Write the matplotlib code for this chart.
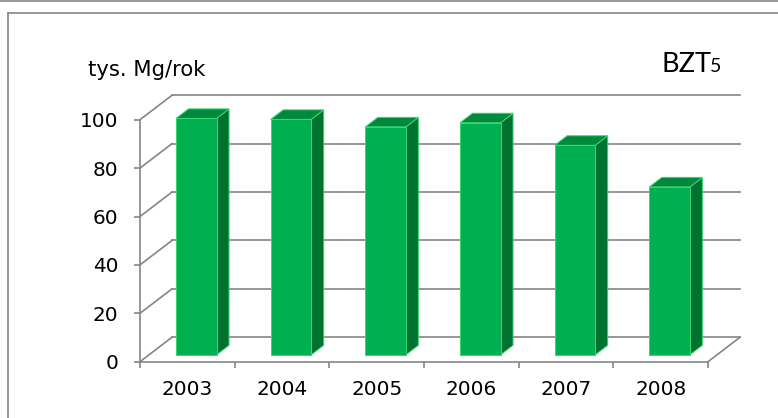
import matplotlib.pyplot as plt
from matplotlib.patches import Polygon
from matplotlib.lines import Line2D

# data
years = ["2003", "2004", "2005", "2006", "2007", "2008"]
bzt5 = [97.7, 97.3, 94.2, 95.9, 86.6, 69.4]
yticks = [0, 20, 40, 60, 80, 100]

W, H = 778, 418
fig = plt.figure(figsize=(W / 100, H / 100), dpi=100)
ax = fig.add_axes([140 / W, 56.3 / H, 568 / W, 242 / H])
ax.set_xlim(0, len(years))
ax.set_ylim(0, 100)

grid_c = "#858585"
front_c = "#00b050"
top_c = "#00883c"
side_c = "#00722f"
edge_c = "#3ad670"

# oblique offset of the back wall (data units)
dx, dy = 0.338, 10.1
f0, fd = 0.28, 0.39      # bar front depth, bar depth (fractions)
bw = 0.428

n = len(years)
for v in yticks:
    ax.plot([0, dx], [v, v + dy], color=grid_c, lw=1.2, clip_on=False, zorder=1)
    ax.plot([dx, n + dx], [v + dy, v + dy], color=grid_c, lw=1.2, clip_on=False, zorder=1)
ax.plot([n, n + dx], [0, dy], color=grid_c, lw=1.2, clip_on=False, zorder=1)

ox, oy = f0 * dx, f0 * dy
bdx, bdy = fd * dx, fd * dy
for i, v in enumerate(bzt5):
    x0 = i + 0.5 - bw / 2 + ox
    x1 = x0 + bw
    front = [(x0, oy), (x1, oy), (x1, v + oy), (x0, v + oy)]
    side = [(x1, oy), (x1 + bdx, oy + bdy), (x1 + bdx, v + oy + bdy), (x1, v + oy)]
    top = [(x0, v + oy), (x1, v + oy), (x1 + bdx, v + oy + bdy), (x0 + bdx, v + oy + bdy)]
    for pts, c in [(side, side_c), (top, top_c), (front, front_c)]:
        ax.add_patch(Polygon(pts, closed=True, facecolor=c, edgecolor=edge_c,
                             lw=0.7, clip_on=False, zorder=3))

for s in ["top", "right"]:
    ax.spines[s].set_visible(False)
for s in ["left", "bottom"]:
    ax.spines[s].set_color(grid_c)
    ax.spines[s].set_linewidth(1.2)
    ax.spines[s].set_zorder(2)

ax.set_yticks(yticks)
ax.tick_params(axis="y", length=4, width=1.2, color=grid_c, pad=11.5, labelsize=14.4)
ax.set_xticks(range(n + 1))
ax.set_xticklabels([])
ax.tick_params(axis="x", which="major", length=4.5, width=1.2, color=grid_c)
ax.set_xticks([i + 0.5 for i in range(n)], minor=True)
ax.set_xticklabels(years, minor=True)
ax.tick_params(axis="x", which="minor", length=0, pad=13, labelsize=14.4)
ax.patch.set_visible(False)

# unit label and title
fig.text(88 / W, (H - 75.7) / H, "tys. Mg/rok", fontsize=15.2, va="baseline", ha="left")
t = fig.text(661 / W, (H - 72.3) / H, "BZT", fontsize=19.5, family="Lato",
             va="baseline", ha="left")
fig.canvas.draw()
bb = t.get_window_extent(fig.canvas.get_renderer())
fig.text((bb.x1 - 1) / W, (H - 72.3) / H, "5", fontsize=14, family="Lato",
         va="baseline", ha="left")

# outer frame lines
fig.add_artist(Line2D([0, 1], [1 - 0.8 / H, 1 - 0.8 / H], color=grid_c, lw=1.2))
fig.add_artist(Line2D([8 / W, 1], [1 - 13 / H, 1 - 13 / H], color=grid_c, lw=1.2))
fig.add_artist(Line2D([8 / W, 8 / W], [0, 1 - 13 / H], color=grid_c, lw=1.2))

fig.savefig("out.png", dpi=100)
